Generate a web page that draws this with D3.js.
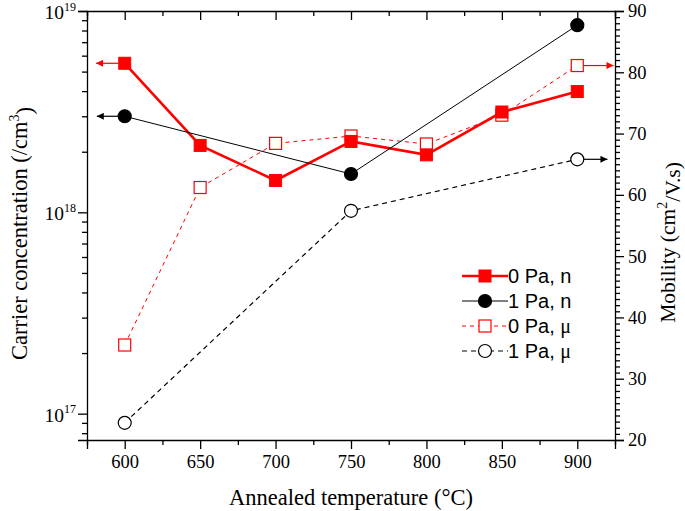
<!DOCTYPE html>
<html>
<head>
<meta charset="utf-8">
<script src="https://cdn.jsdelivr.net/npm/d3@7"></script>
<style>
  body { margin: 0; background: #fff; }
  .tick text { font-family: "Liberation Serif", "Times New Roman", serif; font-size: 18.5px; fill: #000; }
  .domain, .tick line { stroke: #000; stroke-width: 1.3px; }
</style>
</head>
<body>
<div id="chart"></div>
<script>
// data
const temps = [600, 650, 700, 750, 800, 850, 900]
const temps1Pa = [600, 750, 900]
const conc0Pa = [5.5e18, 2.15e18, 1.44e18, 2.25e18, 1.93e18, 3.15e18, 3.98e18]
const conc1Pa = [3.0e18, 1.55e18, 8.5e18]
const mob0Pa = [35.5, 61.2, 68.4, 69.6, 68.3, 73.0, 81.1]
const mob1Pa = [22.8, 57.4, 65.8]
const xTicks = [600, 650, 700, 750, 800, 850, 900]
const leftTicks = [1e17, 1e18, 1e19]
const rightTicks = [20, 30, 40, 50, 60, 70, 80, 90]
const legendLabels = ["0 Pa, n", "1 Pa, n", "0 Pa, \u03bc", "1 Pa, \u03bc"]

function drawChart() {
  var dimensions = {
    width: 685,
    height: 511,
    margin: { top: 11, right: 70, bottom: 71, left: 87 },
  }
  dimensions.boundedWidth = dimensions.width - dimensions.margin.left - dimensions.margin.right
  dimensions.boundedHeight = dimensions.height - dimensions.margin.top - dimensions.margin.bottom

  var svg = d3.select("#chart").append("svg")
    .attr("width", dimensions.width)
    .attr("height", dimensions.height)

  var defs = svg.append("defs")
  ;[["arrowRed", "#ff0000"], ["arrowBlack", "#000"]].forEach(([id, c]) => {
    defs.append("marker")
      .attr("id", id)
      .attr("viewBox", "0 0 10 10")
      .attr("refX", 10).attr("refY", 5)
      .attr("markerWidth", 11).attr("markerHeight", 7)
      .attr("markerUnits", "userSpaceOnUse")
      .attr("orient", "auto")
      .append("path").attr("d", "M0,0 L10,5 L0,10 Z").attr("fill", c)
  })

  var bounds = svg.append("g")
    .attr("transform", `translate(${dimensions.margin.left},${dimensions.margin.top})`)

  // scales
  var xScale = d3.scaleLinear().domain([575, 925]).range([0, dimensions.boundedWidth])
  var yLeft = d3.scaleLog().domain([7.4e16, 1e19]).range([dimensions.boundedHeight, 0])
  var yRight = d3.scaleLinear().domain([20, 90]).range([dimensions.boundedHeight, 0])

  // minor tick values
  var xMinor = d3.range(575, 926, 25).filter(v => xTicks.indexOf(v) < 0)
  var leftMinor = []
  ;[1e16, 1e17, 1e18].forEach(d => { for (var k = 2; k <= 9; k++) leftMinor.push(k * d) })
  leftMinor = leftMinor.filter(v => v >= 7.4e16 && v <= 1e19)
  var rightMinor = d3.range(20, 91, 1).filter(v => v % 10 != 0)

  // bottom axis
  bounds.append("g")
    .attr("transform", `translate(0,${dimensions.boundedHeight})`)
    .call(d3.axisBottom(xScale).tickValues(xTicks).tickSize(9).tickPadding(6).tickFormat(d3.format("d")))
  bounds.append("g")
    .attr("transform", `translate(0,${dimensions.boundedHeight})`)
    .call(d3.axisBottom(xScale).tickValues(xMinor).tickSize(5).tickFormat(""))
    .select(".domain").remove()
  // top axis (inward ticks)
  bounds.append("g")
    .call(d3.axisBottom(xScale).tickValues(xTicks).tickSize(9).tickFormat(""))
  bounds.append("g")
    .call(d3.axisBottom(xScale).tickValues(xMinor).tickSize(5).tickFormat(""))
    .select(".domain").remove()

  // left axis
  var yAxisLeft = bounds.append("g")
    .call(d3.axisLeft(yLeft).tickValues(leftTicks).tickSize(9).tickPadding(4).tickFormat(""))
  bounds.append("g")
    .call(d3.axisLeft(yLeft).tickValues(leftMinor).tickSize(5).tickFormat(""))
    .select(".domain").remove()
  yAxisLeft.selectAll(".tick").each(function(d) {
    var t = d3.select(this).append("text")
      .attr("x", -11).attr("dy", "0.38em").attr("text-anchor", "end")
      .style("font-size", "19.5px")
    t.append("tspan").text("10")
    t.append("tspan").attr("dy", "-0.68em").style("font-size", "12px").text(Math.round(Math.log10(d)))
  })

  // right axis
  bounds.append("g")
    .attr("transform", `translate(${dimensions.boundedWidth},0)`)
    .call(d3.axisRight(yRight).tickValues(rightTicks).tickSize(9).tickPadding(4))
  bounds.append("g")
    .attr("transform", `translate(${dimensions.boundedWidth},0)`)
    .call(d3.axisRight(yRight).tickValues(rightMinor).tickSize(5).tickFormat(""))
    .select(".domain").remove()

  // axis titles
  svg.append("text")
    .attr("x", dimensions.margin.left + xScale(750))
    .attr("y", 505)
    .attr("text-anchor", "middle")
    .style("font-family", "Liberation Serif, Times New Roman, serif")
    .style("font-size", "22.5px")
    .text("Annealed temperature (\u00b0C)")

  var yLabel = svg.append("text")
    .attr("transform", `translate(27,${dimensions.margin.top + dimensions.boundedHeight / 2 + 8}) rotate(-90)`)
    .attr("text-anchor", "middle")
    .style("font-family", "Liberation Serif, Times New Roman, serif")
    .style("font-size", "22.5px")
  yLabel.append("tspan").text("Carrier concentration (/cm")
  yLabel.append("tspan").attr("dy", "-0.6em").style("font-size", "14px").text("3")
  yLabel.append("tspan").attr("dy", "0.6em").text(")")

  var y2Label = svg.append("text")
    .attr("transform", `translate(675,${dimensions.margin.top + dimensions.boundedHeight / 2 + 17}) rotate(-90)`)
    .attr("text-anchor", "middle")
    .style("font-family", "Liberation Serif, Times New Roman, serif")
    .style("font-size", "21.5px")
  y2Label.append("tspan").text("Mobility (cm")
  y2Label.append("tspan").attr("dy", "-0.6em").style("font-size", "14px").text("2")
  y2Label.append("tspan").attr("dy", "0.6em").text("/V.s)")

  // series
  var series = [
    { key: "mu1", xs: temps1Pa, ys: mob1Pa, y: yRight, color: "#000", width: 1.2, dash: "5,4", shape: "circle", filled: false },
    { key: "mu0", xs: temps, ys: mob0Pa, y: yRight, color: "#ff0000", width: 1, dash: "4,4", shape: "square", filled: false },
    { key: "n0", xs: temps, ys: conc0Pa, y: yLeft, color: "#ff0000", width: 2.6, dash: null, shape: "square", filled: true },
    { key: "n1", xs: temps1Pa, ys: conc1Pa, y: yLeft, color: "#000", width: 1, dash: null, shape: "circle", filled: true },
  ]

  function drawMarker(g, shape, filled, color, cx, cy) {
    if (shape == "square") {
      g.append("rect")
        .attr("x", cx - 6).attr("y", cy - 6).attr("width", 12).attr("height", 12)
        .attr("fill", filled ? color : "#fff").attr("stroke", color).attr("stroke-width", filled ? 1 : 1.2)
    } else {
      g.append("circle")
        .attr("cx", cx).attr("cy", cy).attr("r", 6.5)
        .attr("fill", filled ? color : "#fff").attr("stroke", color).attr("stroke-width", 1.2)
    }
  }

  series.forEach(s => {
    var pts = s.xs.map((x, i) => [x, s.ys[i]])
    var line = d3.line().x(d => xScale(d[0])).y(d => s.y(d[1]))
    bounds.append("path")
      .attr("d", line(pts))
      .attr("fill", "none")
      .attr("stroke", s.color)
      .attr("stroke-width", s.width)
      .attr("stroke-dasharray", s.dash)
    var g = bounds.append("g")
    pts.forEach(d => drawMarker(g, s.shape, s.filled, s.color, xScale(d[0]), s.y(d[1])))
  })

  // axis indicator arrows
  var arrows = [
    { x: 600, v: conc0Pa[0], y: yLeft, to: 581, color: "#ff0000", m: "arrowRed", off: 6 },
    { x: 600, v: conc1Pa[0], y: yLeft, to: 581.5, color: "#000", m: "arrowBlack", off: 6.5 },
    { x: 900, v: mob0Pa[6], y: yRight, to: 924, color: "#ff0000", m: "arrowRed", off: -6 },
    { x: 900, v: mob1Pa[2], y: yRight, to: 920, color: "#000", m: "arrowBlack", off: -6.5 },
  ]
  arrows.forEach(a => {
    bounds.append("line")
      .attr("x1", xScale(a.x) - a.off).attr("x2", xScale(a.to))
      .attr("y1", a.y(a.v)).attr("y2", a.y(a.v))
      .attr("stroke", a.color).attr("stroke-width", 1.2)
      .attr("marker-end", `url(#${a.m})`)
  })

  // legend, in the order n0, n1, mu0, mu1
  var legendOrder = ["n0", "n1", "mu0", "mu1"]
  var legend = svg.append("g").attr("transform", "translate(462,276)")
  legendOrder.forEach((key, i) => {
    var s = series.find(d => d.key == key)
    var row = legend.append("g").attr("transform", `translate(0,${i * 25})`)
    row.append("line")
      .attr("x1", 0).attr("x2", 46).attr("y1", 0).attr("y2", 0)
      .attr("stroke", s.color).attr("stroke-width", s.width)
      .attr("stroke-dasharray", s.dash)
    drawMarker(row, s.shape, s.filled, s.color, 23, 0)
    var label = legendLabels[i]
    var t = row.append("text")
      .attr("x", 46).attr("y", 0).attr("dy", "0.36em")
      .style("font-family", "Liberation Sans, Arial, sans-serif")
      .style("font-size", "20px")
    if (label.indexOf("\u03bc") >= 0) {
      t.append("tspan").text(label.slice(0, -1))
      t.append("tspan").style("font-family", "Liberation Serif, Times New Roman, serif").text("\u03bc")
    } else {
      t.text(label)
    }
  })
}

drawChart()
</script>
</body>
</html>
